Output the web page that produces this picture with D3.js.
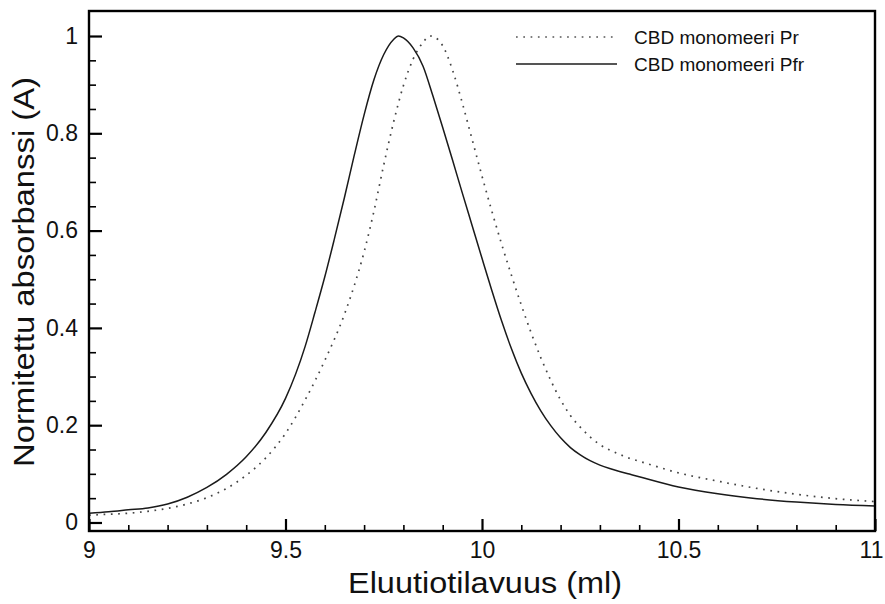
<!DOCTYPE html>
<html>
<head>
<meta charset="utf-8">
<script src="https://cdn.jsdelivr.net/npm/d3@7/dist/d3.min.js"></script>
<style>
  html, body { margin: 0; padding: 0; background: #fff; }
  svg { display: block; }
  text { font-family: "Liberation Sans", Arial, Helvetica, sans-serif; fill: #111; }
</style>
</head>
<body>
<svg id="chart" width="885" height="604"></svg>
<script>
// Elution volume (ml) sample points and normalised absorbance for each form
const volumePfr = [9.00, 9.05, 9.10, 9.15, 9.20, 9.25, 9.30, 9.35, 9.40, 9.45, 9.50, 9.55, 9.575, 9.60, 9.625, 9.65, 9.675, 9.70, 9.725, 9.75, 9.775, 9.787, 9.80, 9.825, 9.85, 9.875, 9.90, 9.925, 9.95, 9.975, 10.00, 10.025, 10.05, 10.075, 10.10, 10.125, 10.15, 10.175, 10.20, 10.225, 10.25, 10.275, 10.30, 10.325, 10.35, 10.375, 10.40, 10.50, 10.60, 10.70, 10.80, 10.90, 11.00];
const absPfr    = [0.019, 0.022, 0.026, 0.030, 0.038, 0.052, 0.072, 0.099, 0.135, 0.185, 0.255, 0.362, 0.432, 0.505, 0.585, 0.668, 0.755, 0.838, 0.910, 0.962, 0.993, 1.000, 0.996, 0.975, 0.938, 0.877, 0.812, 0.745, 0.677, 0.610, 0.543, 0.477, 0.414, 0.357, 0.307, 0.265, 0.229, 0.199, 0.174, 0.154, 0.139, 0.127, 0.118, 0.111, 0.105, 0.0995, 0.094, 0.073, 0.059, 0.049, 0.042, 0.037, 0.034];

const volumePr = [9.00, 9.05, 9.10, 9.15, 9.20, 9.25, 9.30, 9.35, 9.40, 9.45, 9.50, 9.55, 9.60, 9.65, 9.675, 9.70, 9.725, 9.75, 9.775, 9.80, 9.825, 9.85, 9.868, 9.875, 9.90, 9.925, 9.95, 9.975, 10.00, 10.025, 10.05, 10.075, 10.10, 10.125, 10.15, 10.175, 10.20, 10.225, 10.25, 10.275, 10.30, 10.325, 10.35, 10.375, 10.40, 10.50, 10.60, 10.70, 10.80, 10.90, 11.00];
const absPr    = [0.015, 0.017, 0.019, 0.023, 0.029, 0.038, 0.051, 0.070, 0.097, 0.133, 0.183, 0.252, 0.333, 0.428, 0.487, 0.556, 0.640, 0.735, 0.823, 0.898, 0.953, 0.987, 1.000, 0.999, 0.980, 0.930, 0.862, 0.787, 0.712, 0.640, 0.572, 0.508, 0.447, 0.390, 0.338, 0.292, 0.252, 0.220, 0.196, 0.176, 0.160, 0.149, 0.140, 0.132, 0.126, 0.102, 0.085, 0.070, 0.058, 0.049, 0.043];

const seriesNames = ["CBD monomeeri Pr", "CBD monomeeri Pfr"];
const xMajorTicks = [9, 9.5, 10, 10.5, 11];
const xTickLabels = ["9", "9.5", "10", "10.5", "11"];
const yMajorTicks = [0, 0.2, 0.4, 0.6, 0.8, 1];
const yTickLabels = ["0", "0.2", "0.4", "0.6", "0.8", "1"];
const xTitle = "Eluutiotilavuus (ml)";
const yTitle = "Normitettu absorbanssi (A)";

const svg = d3.select("#chart");
const plot = { left: 89, top: 11, right: 875, bottom: 531 };

const x = d3.scaleLinear().domain([9, 11]).range([plot.left, plot.right]);
const y = d3.scaleLinear().domain([-0.0175, 1.0514]).range([plot.bottom, plot.top]);

// minor ticks
const xMinor = d3.range(9, 11.0001, 0.1).map(v => +v.toFixed(2)).filter(v => !xMajorTicks.includes(v));
const yMinor = d3.range(0, 1.0001, 0.05).map(v => +v.toFixed(2)).filter(v => !yMajorTicks.includes(v));

svg.append("clipPath").attr("id", "plotclip")
  .append("rect")
  .attr("x", plot.left).attr("y", plot.top)
  .attr("width", plot.right - plot.left).attr("height", plot.bottom - plot.top);

// curves
const line = d3.line()
  .x(d => x(d[0]))
  .y(d => y(d[1]))
  .curve(d3.curveMonotoneX);

const g = svg.append("g").attr("clip-path", "url(#plotclip)");

g.append("path")
  .datum(d3.zip(volumePr, absPr))
  .attr("fill", "none")
  .attr("stroke", "#444")
  .attr("stroke-width", 1.7)
  .attr("stroke-dasharray", "1.7,5.6")
  .attr("d", line);

g.append("path")
  .datum(d3.zip(volumePfr, absPfr))
  .attr("fill", "none")
  .attr("stroke", "#1a1a1a")
  .attr("stroke-width", 1.5)
  .attr("d", line);

// axes: inward ticks
const xAxisMajor = d3.axisBottom(x).tickValues(xMajorTicks)
  .tickFormat((d, i) => xTickLabels[i]).tickSize(-12).tickPadding(11);
const xAxisMinor = d3.axisBottom(x).tickValues(xMinor).tickFormat("").tickSize(-6);
const yAxisMajor = d3.axisLeft(y).tickValues(yMajorTicks)
  .tickFormat((d, i) => yTickLabels[i]).tickSize(-13).tickPadding(11);
const yAxisMinor = d3.axisLeft(y).tickValues(yMinor).tickFormat("").tickSize(-7);

function styleAxis(sel, width) {
  sel.select(".domain").remove();
  sel.selectAll(".tick line").attr("stroke", "#000").attr("stroke-width", width);
}

svg.append("g").attr("transform", `translate(0,${plot.bottom})`).call(xAxisMinor).call(s => styleAxis(s, 1.6));
const gx = svg.append("g").attr("transform", `translate(0,${plot.bottom})`).call(xAxisMajor).call(s => styleAxis(s, 2.2));
gx.selectAll(".tick text")
  .attr("font-size", 23)
  .attr("font-family", "Liberation Sans, Arial, sans-serif")
  .attr("fill", "#111")
  .attr("dx", d => d === 11 ? -4 : 0);

svg.append("g").attr("transform", `translate(${plot.left},0)`).call(yAxisMinor).call(s => styleAxis(s, 1.6));
const gy = svg.append("g").attr("transform", `translate(${plot.left},0)`).call(yAxisMajor).call(s => styleAxis(s, 2.2));
gy.selectAll(".tick text")
  .attr("font-size", 23)
  .attr("font-family", "Liberation Sans, Arial, sans-serif")
  .attr("fill", "#111");

// frame
svg.append("rect")
  .attr("x", plot.left).attr("y", plot.top)
  .attr("width", plot.right - plot.left).attr("height", plot.bottom - plot.top)
  .attr("fill", "none").attr("stroke", "#000").attr("stroke-width", 2.4);

// axis titles
svg.append("text")
  .attr("x", 485)
  .attr("y", 593)
  .attr("text-anchor", "middle")
  .attr("font-size", 29)
  .attr("textLength", 274)
  .attr("lengthAdjust", "spacingAndGlyphs")
  .text(xTitle);

svg.append("text")
  .attr("transform", `translate(34,272) rotate(-90)`)
  .attr("text-anchor", "middle")
  .attr("font-size", 30)
  .attr("textLength", 390)
  .attr("lengthAdjust", "spacingAndGlyphs")
  .text(yTitle);

// legend
const legend = svg.append("g");
const legendStyles = [
  { stroke: "#555", width: 1.7, dash: "1.7,5.6" },
  { stroke: "#555", width: 2, dash: null }
];
seriesNames.forEach((name, i) => {
  const ly = 37 + i * 27;
  legend.append("line")
    .attr("x1", 516).attr("x2", 617)
    .attr("y1", ly).attr("y2", ly)
    .attr("stroke", legendStyles[i].stroke)
    .attr("stroke-width", legendStyles[i].width)
    .attr("stroke-dasharray", legendStyles[i].dash);
  legend.append("text")
    .attr("x", 634).attr("y", ly + 7)
    .attr("font-size", 19)
    .text(name);
});
</script>
</body>
</html>
